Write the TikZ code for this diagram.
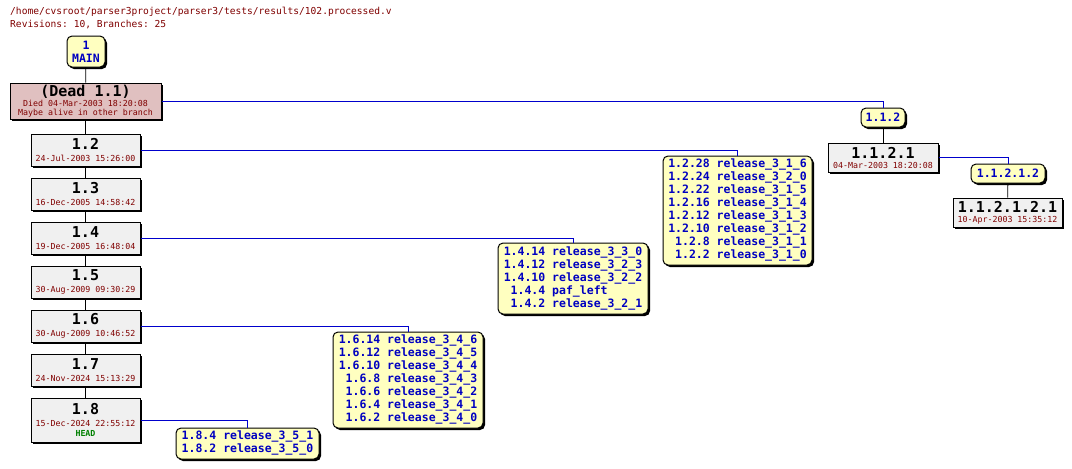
\documentclass[tikz,border=0pt]{standalone}
\usepackage{fontspec}
\setmonofont{DejaVu Sans Mono}
\usetikzlibrary{shadows}
\definecolor{tagblue}{HTML}{0000C0}
\definecolor{tagfill}{HTML}{FFFFC0}
\definecolor{datered}{HTML}{800000}
\definecolor{deadfill}{HTML}{E0C0C0}
\definecolor{revfill}{HTML}{F0F0F0}
\definecolor{headgreen}{HTML}{008000}
\newcommand{\revn}[1]{{\fontsize{15}{15}\selectfont #1}}
\newcommand{\revd}[1]{{\fontsize{8.3}{9}\selectfont\mdseries\color{datered}#1}}
\begin{document}
\begin{tikzpicture}[x=1pt,y=-1pt,
  every node/.style={font=\ttfamily\bfseries, inner sep=0pt, align=center},
  box/.style={draw, line width=1pt, minimum width=#1, general shadow={shadow xshift=2pt, shadow yshift=-2pt, fill=black}},
  rev/.style={box=#1, fill=revfill},
  tag/.style={box=#1, fill=tagfill, rounded corners=5pt, text=tagblue, font=\ttfamily\bfseries\fontsize{11.5}{13}\selectfont},
  link/.style={line width=0.8pt},
  br/.style={line width=0.8pt, blue!80!black}]
\useasboundingbox[fill=white] (0,0) rectangle (1072,469);
\node[anchor=west, text=datered, font=\ttfamily\fontsize{9.6}{10}\selectfont] (hdr1) at (10,12) {/home/cvsroot/parser3project/parser3/tests/results/102.processed.v};
\node[anchor=west, text=datered, font=\ttfamily\fontsize{9.6}{10}\selectfont] (hdr2) at (10,25) {Revisions: 10, Branches: 25};

\node[tag=38pt, minimum height=31pt] (main) at (86,51.5) {1\\MAIN};
\node[rev=151pt, fill=deadfill, minimum height=36pt] (dead) at (85.5,101) {\revn{(Dead 1.1)}\\[-2pt]\revd{Died 04-Mar-2003 18:20:08}\\[-3pt]\revd{Maybe alive in other branch}};
\node[rev=109pt, minimum height=32pt] (r12) at (85.5,150) {\revn{1.2}\\\revd{24-Jul-2003 15:26:00}};
\node[rev=109pt, minimum height=32pt] (r13) at (85.5,194) {\revn{1.3}\\\revd{16-Dec-2005 14:58:42}};
\node[rev=109pt, minimum height=32pt] (r14) at (85.5,238) {\revn{1.4}\\\revd{19-Dec-2005 16:48:04}};
\node[rev=109pt, minimum height=32pt] (r15) at (85.5,282) {\revn{1.5}\\\revd{30-Aug-2009 09:30:29}};
\node[rev=109pt, minimum height=32pt] (r16) at (85.5,326) {\revn{1.6}\\\revd{30-Aug-2009 10:46:52}};
\node[rev=109pt, minimum height=32pt] (r17) at (85.5,370) {\revn{1.7}\\\revd{24-Nov-2024 15:13:29}};
\node[rev=109pt, minimum height=44pt] (r18) at (85.5,420) {\revn{1.8}\\\revd{15-Dec-2024 22:55:12}\\[-2pt]{\fontsize{8.3}{9}\selectfont\color{headgreen}HEAD}};

\node[tag=44pt, minimum height=19pt] (b112) at (883,117.5) {1.1.2};
\node[rev=110pt, minimum height=29pt] (r1121) at (883,157.5) {\revn{1.1.2.1}\\[-2pt]\revd{04-Mar-2003 18:20:08}};
\node[tag=74pt, minimum height=19pt] (b11212) at (1008,173.5) {1.1.2.1.2};
\node[rev=109pt, minimum height=29pt] (r112121) at (1007.5,212.5) {\revn{1.1.2.1.2.1}\\[-2pt]\revd{10-Apr-2003 15:35:12}};

\node[tag=149pt, minimum height=109pt] (t12) at (737.5,210.5) {\begin{tabular}{@{}r@{ }l@{}}
1.2.28 & release\_3\_1\_6\\ 1.2.24 & release\_3\_2\_0\\ 1.2.22 & release\_3\_1\_5\\ 1.2.16 & release\_3\_1\_4\\
1.2.12 & release\_3\_1\_3\\ 1.2.10 & release\_3\_1\_2\\ 1.2.8 & release\_3\_1\_1\\ 1.2.2 & release\_3\_1\_0\end{tabular}};
\node[tag=150pt, minimum height=71pt] (t14) at (573,278.5) {\begin{tabular}{@{}r@{ }l@{}}
1.4.14 & release\_3\_3\_0\\ 1.4.12 & release\_3\_2\_3\\ 1.4.10 & release\_3\_2\_2\\ 1.4.4 & paf\_left\\ 1.4.2 & release\_3\_2\_1\end{tabular}};
\node[tag=150pt, minimum height=96pt] (t16) at (408,380) {\begin{tabular}{@{}r@{ }l@{}}
1.6.14 & release\_3\_4\_6\\ 1.6.12 & release\_3\_4\_5\\ 1.6.10 & release\_3\_4\_4\\ 1.6.8 & release\_3\_4\_3\\
1.6.6 & release\_3\_4\_2\\ 1.6.4 & release\_3\_4\_1\\ 1.6.2 & release\_3\_4\_0\end{tabular}};
\node[tag=143pt, minimum height=31pt] (t18) at (247.5,443.5) {\begin{tabular}{@{}r@{ }l@{}}
1.8.4 & release\_3\_5\_1\\ 1.8.2 & release\_3\_5\_0\end{tabular}};

\draw[link] (main) -- (dead);
\draw[link] (dead) -- (r12);
\draw[link] (r12) -- (r13);
\draw[link] (r13) -- (r14);
\draw[link] (r14) -- (r15);
\draw[link] (r15) -- (r16);
\draw[link] (r16) -- (r17);
\draw[link] (r17) -- (r18);
\draw[link] (b112) -- (r1121);
\draw[link] (b11212) -- (r112121);

\draw[br] (dead.east) -| (b112.north);
\draw[br] (r1121.east) -| (b11212.north);
\draw[br] (r12.east) -| (t12.north);
\draw[br] (r14.east) -| (t14.north);
\draw[br] (r16.east) -| (t16.north);
\draw[br] (r18.east) -| (t18.north);
\end{tikzpicture}
\end{document}
